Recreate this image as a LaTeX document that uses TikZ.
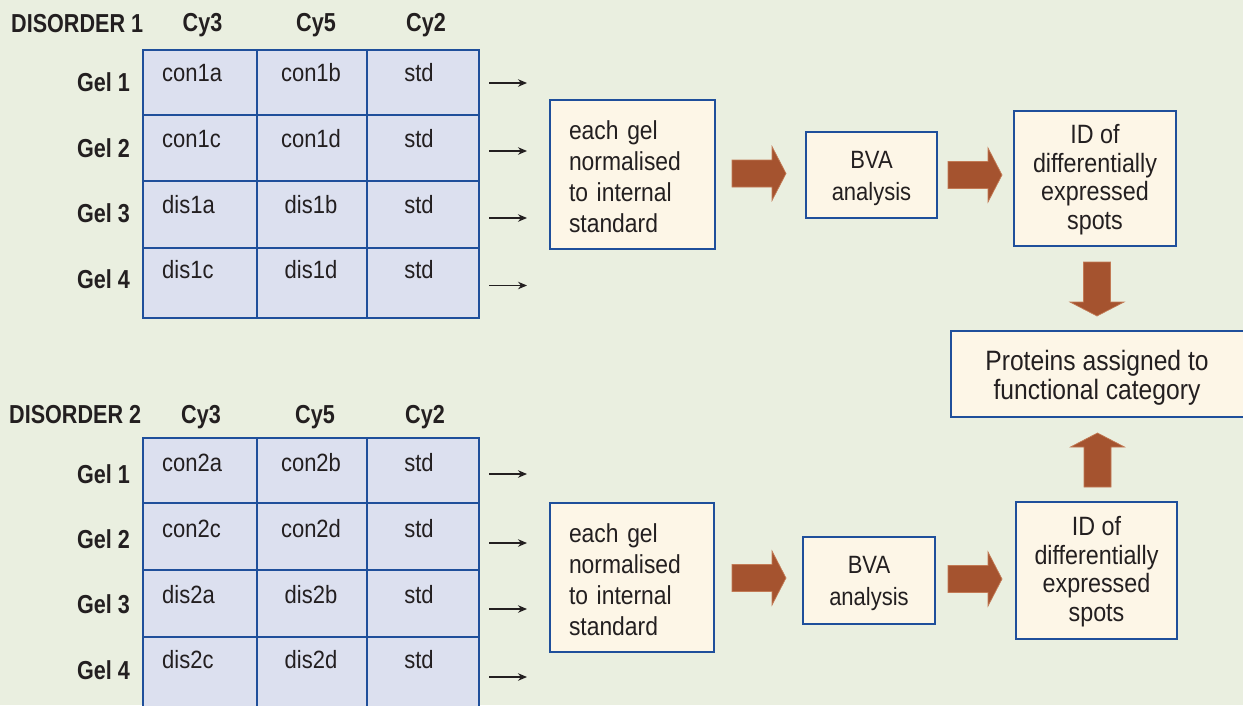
\documentclass[tikz,border=0pt]{standalone}
\usepackage{fontspec}
\setmainfont{Liberation Sans}[FakeStretch=0.88]
\newfontfamily\headfont{Liberation Sans}[FakeStretch=0.83]
\usetikzlibrary{arrows.meta}
\definecolor{bg}{HTML}{EAEFE0}
\definecolor{gridfill}{HTML}{DCE0EF}
\definecolor{boxfill}{HTML}{FDF6E7}
\definecolor{bluel}{HTML}{1F4F9B}
\definecolor{arrowbrown}{HTML}{A5532F}
\definecolor{arrowedge}{HTML}{C27A55}
\definecolor{ink}{HTML}{231F20}
\tikzset{
  gridline/.style={draw=bluel, line width=1.8pt},
  procbox/.style={draw=bluel, line width=1.8pt, fill=boxfill, inner sep=0pt, text=ink},
  head/.style={inner sep=0pt, text=ink, font=\headfont\bfseries\fontsize{26}{28}\selectfont},
  gellabel/.style={inner sep=0pt, text=ink, font=\headfont\bfseries\fontsize{26}{28}\selectfont},
  celltext/.style={inner sep=0pt, text=ink, font=\fontsize{25}{28}\selectfont},
  smallarrow/.style={draw=ink, line width=1.1pt, -{Stealth[length=9pt,width=7.5pt]}},
  barrow/.pic={\fill[arrowbrown, draw=arrowedge, line width=0.7pt]
     (0,-13.5) -- (40,-13.5) -- (40,-27) -- (54,0) -- (40,27) -- (40,13.5) -- (0,13.5) -- cycle;}
}
\begin{document}
\begin{tikzpicture}[x=1pt,y=-1pt]
\useasboundingbox (0,0) rectangle (1243,705);
\fill[bg] (0,0) rectangle (1243,705);

% ---------- top grid ----------
\fill[gridfill] (143,50) rectangle (479,318);
\draw[gridline] (143,50) rectangle (479,318);
\foreach \y in {115,181,248} \draw[gridline] (142,\y) -- (479,\y);
\foreach \x in {257,367} \draw[gridline] (\x,49) -- (\x,318);

\node[head, anchor=base west] (dis1) at (11,32) {DISORDER 1};
\node[head, anchor=base] (h1a) at (202.5,31) {Cy3};
\node[head, anchor=base] (h1b) at (316,31) {Cy5};
\node[head, anchor=base] (h1c) at (426,31) {Cy2};

\foreach \a/\b/\yy/\gy/\ay/\i in {con1a/con1b/81/91/83/1, con1c/con1d/147/157/151/2, dis1a/dis1b/213/222/218/3, dis1c/dis1d/278/288/285.5/4} {
  \node[gellabel, anchor=base east] (g1-\i) at (130,\gy) {Gel \i};
  \node[celltext, anchor=base west] (t1-\i-a) at (162,\yy) {\a};
  \node[celltext, anchor=base] (t1-\i-b) at (311,\yy) {\b};
  \node[celltext, anchor=base] (t1-\i-c) at (419,\yy) {std};
  \coordinate (s1-\i) at (489,\ay);
  \coordinate (e1-\i) at (527,\ay);
  \draw[smallarrow] (s1-\i) -- (e1-\i);
}

% ---------- bottom grid ----------
\fill[gridfill] (143,438) rectangle (479,712);
\draw[gridline] (143,438) rectangle (479,712);
\foreach \y in {503,570,637} \draw[gridline] (142,\y) -- (479,\y);
\foreach \x in {257,367} \draw[gridline] (\x,437) -- (\x,712);

\node[head, anchor=base west] (dis2) at (9,423) {DISORDER 2};
\node[head, anchor=base] (h2a) at (201,423) {Cy3};
\node[head, anchor=base] (h2b) at (315,423) {Cy5};
\node[head, anchor=base] (h2c) at (425,423) {Cy2};

\foreach \a/\b/\yy/\gy/\ay/\i in {con2a/con2b/471/483/474/1, con2c/con2d/537/548/543/2, dis2a/dis2b/603/613/609/3, dis2c/dis2d/668/679/677/4} {
  \node[gellabel, anchor=base east] (g2-\i) at (130,\gy) {Gel \i};
  \node[celltext, anchor=base west] (t2-\i-a) at (162,\yy) {\a};
  \node[celltext, anchor=base] (t2-\i-b) at (311,\yy) {\b};
  \node[celltext, anchor=base] (t2-\i-c) at (419,\yy) {std};
  \coordinate (s2-\i) at (489,\ay);
  \coordinate (e2-\i) at (527,\ay);
  \draw[smallarrow] (s2-\i) -- (e2-\i);
}

% ---------- process boxes, top ----------
\node[procbox, minimum width=165pt, minimum height=149pt, text width=127pt, align=left,
      font=\fontsize{26}{31}\selectfont] (norm1) at (632.5,174.5)
      {\rule{0pt}{24pt}each gel\\normalised\\to internal\\standard};
\node[procbox, minimum width=131pt, minimum height=86pt, align=center,
      font=\fontsize{25}{32}\selectfont] (bva1) at (871.5,175) {\rule{0pt}{24pt}BVA\\analysis};
\node[procbox, minimum width=162pt, minimum height=135pt, align=center,
      font=\fontsize{26.5}{28.5}\selectfont] (id1) at (1095,178.5)
      {\rule{0pt}{21pt}ID of\\differentially\\expressed\\spots};

% ---------- process boxes, bottom ----------
\node[procbox, minimum width=164pt, minimum height=149pt, text width=126pt, align=left,
      font=\fontsize{26}{31}\selectfont] (norm2) at (632,577.5)
      {\rule{0pt}{23pt}each gel\\normalised\\to internal\\standard};
\node[procbox, minimum width=132pt, minimum height=87pt, align=center,
      font=\fontsize{25}{32}\selectfont] (bva2) at (869,580.5) {\rule{0pt}{23pt}BVA\\analysis};
\node[procbox, minimum width=161pt, minimum height=137pt, align=center,
      font=\fontsize{26.5}{28.5}\selectfont] (id2) at (1096.5,570.5)
      {\rule{0pt}{21pt}ID of\\differentially\\expressed\\spots};

% ---------- final box ----------
\node[procbox, minimum width=300pt, minimum height=86pt] (prot) at (1101,374) {};
\node[inner sep=0pt, text=ink, align=center, font=\fontsize{28}{29}\selectfont] (protText) at (1097,377.5)
      {Proteins assigned to\\functional category};

% ---------- block arrows ----------
\pic at (732,173.5) {barrow};
\pic at (948,175) {barrow};
\pic[rotate=-90] at (1097,262) {barrow};
\pic at (732,578) {barrow};
\pic at (948,579) {barrow};
\pic[rotate=90] at (1097.5,487) {barrow};
\end{tikzpicture}
\end{document}
